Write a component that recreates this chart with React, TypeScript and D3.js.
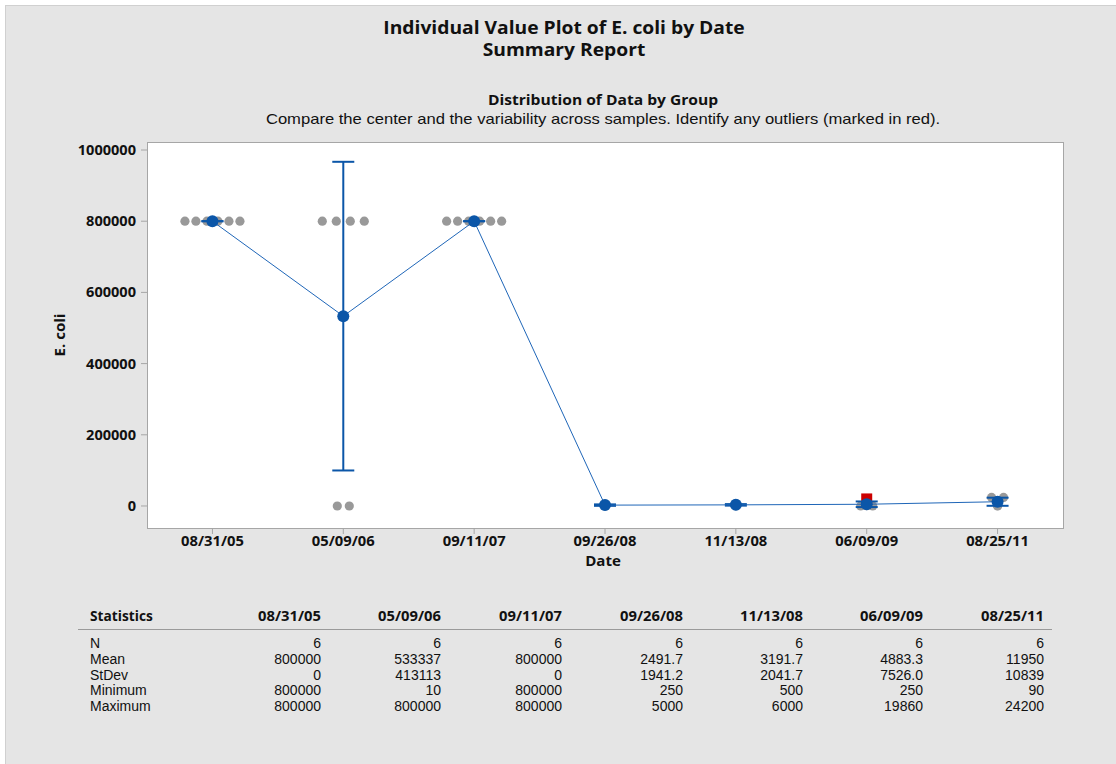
import React from "react";
import * as d3 from "d3";

const dates = ["08/31/05", "05/09/06", "09/11/07", "09/26/08", "11/13/08", "06/09/09", "08/25/11"];

// individual observations per date (E. coli)
const obs0831_05 = [800000, 800000, 800000, 800000, 800000, 800000];
const obs0509_06 = [800000, 800000, 800000, 800000, 10, 10];
const obs0911_07 = [800000, 800000, 800000, 800000, 800000, 800000];
const obs0926_08 = [250, 1000, 1500, 3200, 4000, 5000];
const obs1113_08 = [500, 1500, 2500, 3650, 5000, 6000];
const obs0609_09 = [250, 250, 1000, 2940, 5000, 19860];
const obs0825_11 = [90, 750, 7950, 14510, 24200, 24200];
const observations = [obs0831_05, obs0509_06, obs0911_07, obs0926_08, obs1113_08, obs0609_09, obs0825_11];

// outliers (marked in red)
const outlierDates = ["06/09/09"];
const outlierValues = [19860];

// summary statistics table
const statN = ["6", "6", "6", "6", "6", "6", "6"];
const statMean = ["800000", "533337", "800000", "2491.7", "3191.7", "4883.3", "11950"];
const statStDev = ["0", "413113", "0", "1941.2", "2041.7", "7526.0", "10839"];
const statMin = ["800000", "10", "800000", "250", "500", "250", "90"];
const statMax = ["800000", "800000", "800000", "5000", "6000", "19860", "24200"];
const statLabels = ["N", "Mean", "StDev", "Minimum", "Maximum"];
const statRows = [statN, statMean, statStDev, statMin, statMax];

const yTicks = [0, 200000, 400000, 600000, 800000, 1000000];
const T_CRIT = 2.5706; // t(0.975, df=5)

const W = 1116;
const H = 764;
const FONT = "'Open Sans', 'Noto Sans', sans-serif";
const TABLE_FONT = "'Liberation Sans', Arial, sans-serif";

function T({ x, y, anchor = "start", size = 13, weight = 400, sx = 1, children, fill = "#111", font = FONT }: any) {
  return (
    <text
      transform={`translate(${x},${y}) scale(${sx},1)`}
      textAnchor={anchor}
      fontSize={size}
      fontWeight={weight}
      fontFamily={font}
      fill={fill}
    >
      {children}
    </text>
  );
}

export default function App() {
  const plot = { left: 147, right: 1063, top: 142, bottom: 528 };
  const x = d3.scalePoint<string>().domain(dates).range([plot.left, plot.right]).padding(0.5);
  const y = d3.scaleLinear().domain([-61800, 1022500]).range([plot.bottom, plot.top]);

  const means = statMean.map(Number);
  const sds = statStDev.map(Number);
  const ns = statN.map(Number);
  const ci = means.map((m, i) => {
    const h = (T_CRIT * sds[i]) / Math.sqrt(ns[i]);
    return [m - h, m + h];
  });

  const spacing = (k: number) => (k >= 6 ? 11 : k >= 4 ? 14 : 12);

  const dots: { cx: number; cy: number }[] = [];
  observations.forEach((vals, gi) => {
    const counts = d3.rollup(vals, (v) => v.length, (v) => v);
    counts.forEach((k, v) => {
      const isOut = outlierDates.some((d, oi) => d === dates[gi] && outlierValues[oi] === v);
      if (isOut) return;
      const s = spacing(k);
      for (let j = 0; j < k; j++) {
        dots.push({ cx: (x(dates[gi]) as number) + (j - (k - 1) / 2) * s, cy: y(v) });
      }
    });
  });

  const meanLine = d3
    .line<number>()
    .x((_, i) => x(dates[i]) as number)
    .y((m) => y(m))(means);

  const blue = "#0b56a8";
  const lineBlue = "#1f66b8";

  const colRight = [321, 441, 562, 683, 803, 923, 1044];

  return (
    <svg
      width={W}
      height={H}
      style={{ position: "absolute", left: 0, top: 0, display: "block" }}
    >
      <rect x={0} y={0} width={W} height={H} fill="#ffffff" />
      <rect x={5.5} y={5.5} width={W} height={H} fill="#e5e5e5" stroke="#d0d0d0" />

      <T x={564} y={34} anchor="middle" size={18} weight={700} sx={1.07}>
        Individual Value Plot of E. coli by Date
      </T>
      <T x={564} y={56} anchor="middle" size={18} weight={700} sx={1.07}>
        Summary Report
      </T>
      <T x={603} y={104.5} anchor="middle" size={15} weight={700} sx={1.04}>
        Distribution of Data by Group
      </T>
      <T x={603} y={123.5} anchor="middle" size={15} weight={400} sx={1.107} font={TABLE_FONT}>
        Compare the center and the variability across samples. Identify any outliers (marked in red).
      </T>

      {/* plot area */}
      <rect
        x={plot.left + 0.5}
        y={plot.top + 0.5}
        width={plot.right - plot.left}
        height={plot.bottom - plot.top}
        fill="#ffffff"
        stroke="#a6a6a6"
      />

      {/* y axis */}
      {yTicks.map((t) => (
        <g key={t}>
          <line x1={plot.left - 6} x2={plot.left} y1={y(t)} y2={y(t)} stroke="#a6a6a6" />
          <T x={136} y={y(t) + 5} anchor="end" size={14} weight={700} sx={1.04}>
            {String(t)}
          </T>
        </g>
      ))}
      <text
        transform={`translate(65,${(plot.top + plot.bottom) / 2}) rotate(-90) scale(1.04,1)`}
        textAnchor="middle"
        fontSize={14.5}
        fontWeight={700}
        fontFamily={FONT}
        fill="#111"
      >
        E. coli
      </text>

      {/* x axis */}
      {dates.map((d) => (
        <g key={d}>
          <line x1={x(d)} x2={x(d)} y1={plot.bottom} y2={plot.bottom + 6} stroke="#a6a6a6" />
          <T x={x(d) as number} y={546} anchor="middle" size={14.5} weight={700} sx={1.02}>
            {d}
          </T>
        </g>
      ))}
      <T x={(plot.left + plot.right) / 2 - 2} y={566} anchor="middle" size={14.5} weight={700} sx={1.04}>
        Date
      </T>

      {/* individual values */}
      {dots.map((p, i) => (
        <circle key={i} cx={p.cx} cy={p.cy} r={4.6} fill="#999999" />
      ))}
      {outlierDates.map((d, i) => (
        <rect
          key={d + i}
          x={(x(d) as number) - 5.5}
          y={y(outlierValues[i]) - 5.5}
          width={11}
          height={11}
          fill="#cc0000"
        />
      ))}

      {/* confidence intervals */}
      {dates.map((d, i) => {
        const cx = x(d) as number;
        return (
          <g key={"ci" + d} stroke={blue} strokeWidth={2}>
            <line x1={cx} x2={cx} y1={y(ci[i][0])} y2={y(ci[i][1])} />
            <line x1={cx - 11} x2={cx + 11} y1={y(ci[i][0])} y2={y(ci[i][0])} />
            <line x1={cx - 11} x2={cx + 11} y1={y(ci[i][1])} y2={y(ci[i][1])} />
          </g>
        );
      })}

      <path d={meanLine || ""} fill="none" stroke={lineBlue} strokeWidth={1} />
      {dates.map((d, i) => (
        <circle key={"m" + d} cx={x(d) as number} cy={y(means[i])} r={6} fill={blue} />
      ))}

      {/* statistics table */}
      <T x={90} y={621} size={14} weight={700} sx={0.98}>
        Statistics
      </T>
      {dates.map((d, i) => (
        <T key={"h" + d} x={colRight[i]} y={621} anchor="end" size={14.5} weight={700} sx={1.02}>
          {d}
        </T>
      ))}
      <line x1={78} x2={1052} y1={629.5} y2={629.5} stroke="#9a9a9a" />
      {statLabels.map((lab, r) => (
        <g key={lab}>
          <T x={90} y={648 + r * 15.8} size={14} font={TABLE_FONT}>
            {lab}
          </T>
          {statRows[r].map((v, c) => (
            <T key={c} x={colRight[c]} y={648 + r * 15.8} anchor="end" size={14} font={TABLE_FONT}>
              {v}
            </T>
          ))}
        </g>
      ))}
    </svg>
  );
}
